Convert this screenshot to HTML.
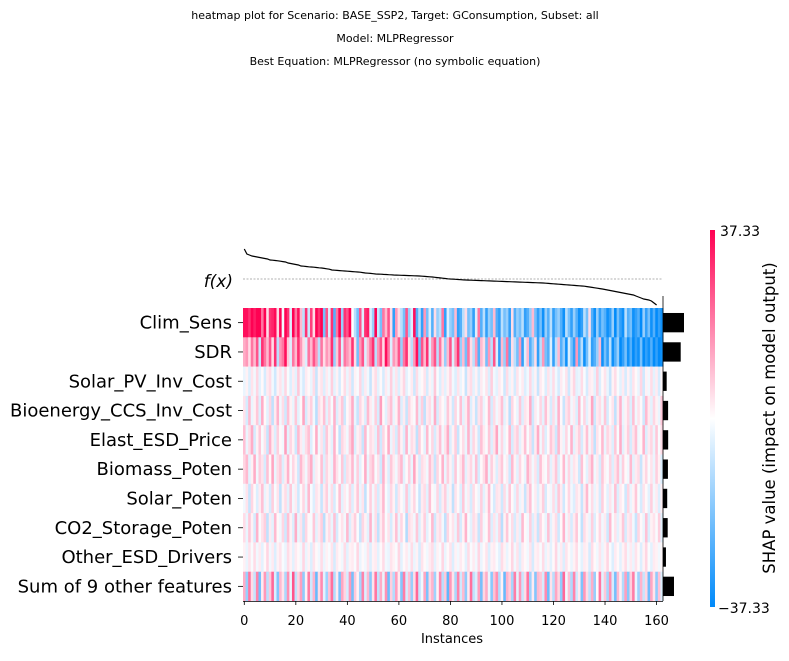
<!DOCTYPE html>
<html><head><meta charset="utf-8"><style>
body{margin:0;background:#fff;}
svg text{font-family:"DejaVu Sans","Liberation Sans",sans-serif;}
</style></head><body>
<svg id="c" width="789" height="656" viewBox="0 0 789 656" xmlns="http://www.w3.org/2000/svg">
<defs><linearGradient id="cb" x1="0" y1="1" x2="0" y2="0">
<stop offset="0" stop-color="rgb(0,138,250)"/><stop offset="0.5" stop-color="rgb(255,255,255)"/><stop offset="1" stop-color="rgb(255,0,82)"/></linearGradient></defs>
<text x="395" y="19" font-size="11" text-anchor="middle">heatmap plot for Scenario: BASE_SSP2, Target: GConsumption, Subset: all</text>
<text x="395" y="42" font-size="11" text-anchor="middle">Model: MLPRegressor</text>
<text x="395" y="65" font-size="11" text-anchor="middle">Best Equation: MLPRegressor (no symbolic equation)</text>
<g id="cells"></g>
<g id="fxg"></g>
<g id="bars"></g>
<g id="ylab"></g>
<g id="xax"></g>
<text x="452" y="643" font-size="13" text-anchor="middle">Instances</text>
<text x="233" y="287" font-size="17" text-anchor="end" font-style="italic">f(x)</text>
<rect x="710" y="230" width="5" height="377" fill="url(#cb)"/>
<text id="cbmax" x="720" y="236" font-size="14"></text>
<text id="cbmin" x="718" y="613" font-size="14"></text>
<text x="775" y="418" font-size="16.5" text-anchor="middle" transform="rotate(-90 775 418)">SHAP value (impact on model output)</text>
</svg>
<script>
const features=["Clim_Sens","SDR","Solar_PV_Inv_Cost","Bioenergy_CCS_Inv_Cost","Elast_ESD_Price","Biomass_Poten","Solar_Poten","CO2_Storage_Poten","Other_ESD_Drivers","Sum of 9 other features"];
const xTicks=[0,20,40,60,80,100,120,140,160];
const vmax=37.33;
const fxVals=[30,25,24,23,22.5,22,21.5,21,20.5,20,19,18.8,18.5,18.2,17.8,17.4,17,16,15.5,15,14.5,14,13,12.8,12.5,12.2,12,11.8,11.5,11.2,11,10.6,10.2,9.8,9,8.8,8.6,8.4,8.2,8,7.8,7.6,7.4,7.2,7,6.8,6.4,6,5.8,5.6,5.3,5,4.9,4.8,4.6,4.5,4.3,4.2,4,3.9,3.8,3.7,3.6,3.5,3.4,3.3,3.2,3.1,3,2.8,2.6,2.4,2.2,2,1.7,1.4,1.1,0.8,0.5,0.2,0,-0.1,-0.3,-0.5,-0.7,-0.9,-1,-1.1,-1.2,-1.3,-1.4,-1.5,-1.6,-1.7,-1.8,-1.9,-2,-2.1,-2.2,-2.3,-2.4,-2.5,-2.6,-2.7,-2.8,-2.9,-3,-3.1,-3.2,-3.3,-3.4,-3.5,-3.6,-3.7,-3.8,-3.9,-4,-4.2,-4.4,-4.6,-4.8,-5,-5.2,-5.4,-5.6,-5.8,-6,-6.2,-6.4,-6.6,-6.8,-7,-7.2,-7.6,-8,-8.4,-8.8,-9.2,-9.6,-10,-10.5,-11,-11.5,-12,-12.5,-13,-13.5,-14,-14.5,-15,-15.5,-16,-17,-18,-19,-20,-20.5,-21,-22,-24,-26];
const climSens=[35,35,30,37,33,37,37,20,37,5,30,32,36,6,37,-2,37,30,-5,37,20,35,10,-10,30,-8,28,5,37,30,37,-20,25,-5,30,-25,20,37,-15,30,25,37,0,-10,-20,25,-5,30,33,-5,-15,37,-8,-20,20,10,25,5,-30,15,5,-10,-20,25,-15,-5,35,-25,-10,-30,15,-20,-5,-25,5,-15,-10,20,-30,-5,-15,-20,10,-30,-25,-10,5,-20,-15,-30,-5,20,-25,-10,-30,-15,-20,10,-25,-30,-10,-20,-15,-30,5,-25,-15,-20,-10,-30,-25,-15,10,-20,-30,-20,-35,-15,-25,-10,-30,-20,-15,-25,-35,-10,-20,-30,-15,-25,-35,-30,-10,-20,5,-25,-35,-15,-30,-20,-25,-35,-30,-15,-37,-20,-30,-35,-10,-25,-20,-35,-30,-25,-37,-15,-30,-20,-35,-25,-37,-30,-35];
const sdr=[12,15,5,20,10,25,-8,30,20,10,25,5,30,-10,15,20,35,8,-5,20,10,30,15,5,-5,20,10,25,15,-10,20,5,15,10,30,-15,8,25,-5,20,15,10,30,5,-20,15,25,-5,10,20,30,-10,15,25,5,35,20,-5,15,10,25,-15,20,30,5,-10,15,35,-20,25,10,30,-5,15,25,-10,20,5,-15,10,25,-5,15,30,-15,10,-20,20,5,-10,15,-25,10,5,-20,15,-10,25,-5,-30,10,-15,20,-25,5,-10,-20,15,-30,-5,10,-25,-15,5,-30,-10,15,-20,-25,-5,-30,-10,10,-25,-15,-35,-5,-20,-30,15,-25,-10,-35,-20,-5,-30,-25,-15,10,-35,-20,-30,-10,-35,-25,-15,-37,-30,-20,-35,-25,-37,-30,-35,-20,-37,-30,-35,-25,-37,-30,-37,-35];
const solarPV=[-3,2,-5,4,-2,6,-4,1,-6,3,5,-2,-7,2,4,-3,6,-1,-5,3,-4,8,-2,-6,3,1,-3,5,-8,2,4,-5,3,-2,7,-4,2,-6,1,5,-3,4,-7,2,-1,6,-5,3,-2,-8,2,5,-4,1,-6,3,-2,7,-3,4,-5,2,6,-4,-1,3,-7,5,-2,1,4,-6,2,-3,8,-1,-5,3,-4,2,6,-2,-5,4,-3,1,-8,3,5,-4,2,-6,3,-1,4,-5,7,-2,-4,3,1,-7,5,-3,2,-6,4,-1,3,-5,-2,6,-4,2,-8,3,1,-5,4,-3,5,-2,-6,3,-1,4,-7,2,6,-4,-3,5,-1,-6,3,2,-4,7,-5,1,4,-3,-8,2,5,-1,-4,3,-6,2,-5,4,1,-3,6,-7,2,-2,5,-4,3,-6,1];
const bioCCS=[4,-6,10,-3,2,8,-5,12,1,-4,6,-9,3,11,-2,5,-7,9,2,-3,8,-4,1,13,-6,3,7,-2,-10,5,2,9,-4,6,-1,11,-5,3,8,-7,1,4,12,-3,-8,6,2,-5,10,3,-2,7,-6,14,1,-4,5,9,-3,2,11,-5,3,-8,6,2,-1,10,-4,7,-9,3,5,-2,12,-6,4,1,-3,8,2,-7,6,-1,9,-4,3,11,-5,2,-8,4,7,-3,1,10,-6,5,-2,3,9,-4,2,-10,6,1,-3,8,-5,4,2,12,-7,3,-1,6,-4,9,2,-6,5,-3,11,1,-8,4,7,-2,3,-5,10,-1,6,-4,2,13,-7,3,5,-2,8,-6,1,4,-9,3,11,-3,2,6,-5,9,-2,4,1,-7,10,3,-4,6,2,-3,8];
const elast=[9,-3,5,12,-6,2,8,-1,4,-8,11,3,-5,7,1,-2,14,-4,6,2,-7,10,3,-3,5,9,-5,1,12,-2,4,-6,8,2,-4,11,1,-9,6,3,-2,7,13,-5,2,4,-8,10,-1,5,3,-4,9,-7,6,1,12,-3,4,-6,8,2,-5,11,-2,5,3,-9,7,1,-4,10,-1,6,-6,3,9,-2,4,12,-5,2,7,-8,1,5,-3,11,-4,6,2,-7,9,3,-1,8,-5,4,13,-2,6,-3,1,10,-6,4,7,-4,2,9,-1,5,-8,3,12,-2,6,-5,1,8,4,-7,10,2,-3,6,-1,11,-4,3,7,-6,2,9,-2,5,-9,4,1,10,-3,6,3,-5,8,-1,12,-4,2,7,-6,4,9,-2,1,11,-5,3,6,-3,8,-1,5];
const biomass=[6,10,-4,2,12,-2,7,4,-6,9,1,13,-3,5,8,-5,3,11,-1,6,2,-7,10,4,-2,7,12,-4,3,1,9,-5,6,2,-3,11,4,-1,8,-6,5,3,10,-2,7,-4,1,12,-3,6,9,-1,4,-7,11,2,-5,8,3,-2,6,10,-4,1,7,-3,13,2,-6,5,3,-2,9,4,-8,6,1,11,-3,7,2,-5,8,-1,4,10,-4,3,6,-2,9,-6,1,5,12,-3,7,2,-5,4,8,-1,3,-7,10,2,-4,6,1,-3,11,5,-2,4,-6,9,2,-1,7,-4,3,8,-5,1,10,-2,6,-3,4,2,-7,9,1,-4,5,11,-2,3,-6,8,2,-1,6,-5,4,9,-3,7,1,-2,10,-4,3,5,-8,2,6,-1,4,-3,7,2,-5];
const solarPot=[-2,4,-8,6,1,-5,3,9,-3,2,-6,7,-1,4,-9,2,5,-4,8,-2,3,-7,1,6,-3,10,-1,-5,4,2,-8,3,7,-2,5,-6,1,9,-4,3,-1,6,-5,2,8,-3,4,-9,1,7,-2,5,-6,3,10,-1,-4,6,2,-7,4,1,-3,8,-5,2,6,-1,-8,3,5,-4,9,1,-2,6,-6,3,7,-3,2,-9,4,1,-5,8,-2,3,-6,5,1,-3,7,-4,2,10,-1,-6,4,3,-7,5,-2,8,1,-4,6,-3,2,-8,4,9,-1,3,-5,2,7,-6,1,-2,5,-4,8,3,-7,1,6,-2,-5,4,2,-8,3,10,-1,5,-3,2,-6,7,1,-4,4,-2,9,-5,3,1,-7,6,-3,2,8,-1,-6,4,1,-4,7,-2,3,-5,2];
const co2=[5,-3,8,2,-6,11,-1,4,7,-9,3,-4,10,1,-2,6,-7,9,2,-5,12,-3,4,-8,6,1,-1,8,-4,3,7,-10,2,5,-3,9,-6,1,4,-2,10,-5,3,7,-1,-8,6,2,-4,11,-2,5,-9,3,8,-1,4,-6,2,9,-3,6,1,-11,5,3,-2,8,-5,2,7,-4,1,10,-7,3,5,-2,-9,6,1,4,-3,8,-6,2,11,-1,-4,5,3,-8,7,-2,1,9,-5,4,-3,6,-10,2,8,-1,5,-6,3,-4,10,1,-2,7,-5,3,-8,6,1,-3,9,-4,2,5,-7,1,11,-2,4,-6,3,8,-1,-9,5,2,-3,7,-5,1,6,-2,3,-7,10,-1,4,-4,2,8,-6,3,5,-2,-8,6,1,-3,9,-5,2,4,-1,7,-4];
const otherESD=[2,-3,4,-1,5,-2,3,-4,1,6,-2,3,-5,2,4,-1,-3,5,2,-4,3,1,-2,6,-3,2,-5,4,1,-2,5,-3,2,-1,4,-6,3,1,-2,5,-4,2,3,-1,6,-3,1,-2,4,-5,2,3,-4,1,5,-2,-3,4,2,-1,6,-4,1,3,-2,5,-3,2,-6,4,1,-2,3,5,-4,2,-1,6,-3,1,4,-5,2,-2,3,1,-4,5,-1,3,-2,6,-3,1,4,-5,2,3,-1,-4,5,2,-3,1,6,-2,4,-5,3,1,-2,4,-6,2,3,-1,5,-3,2,-4,1,6,-2,3,-5,4,1,-3,2,5,-1,-4,3,2,-6,5,1,-2,4,-3,2,6,-1,-5,3,1,-4,2,5,-2,3,-3,4,1,-5,2,6,-1,-4,3,2,-2,1];
const sumOther=[12,-15,20,5,-8,18,-20,3,15,-10,8,22,-5,-18,10,4,-12,16,-3,25,-9,6,14,-16,2,19,-7,11,-22,5,17,-4,-14,9,21,-11,3,-19,13,6,-6,15,-20,8,2,-13,18,-5,10,-17,4,20,-9,12,-3,16,-21,7,-11,14,3,-18,19,-6,9,-15,5,22,-8,-2,13,-19,6,11,-14,2,17,-10,8,-23,15,4,-12,18,-7,10,-16,3,21,-9,-5,14,-20,6,12,-3,-17,9,16,-11,2,-22,11,7,-13,19,-4,15,-8,5,20,-14,3,-18,10,8,-6,17,-21,4,-10,13,6,-16,22,-2,9,-12,18,-7,3,-19,15,5,-9,12,-15,1,20,-4,8,-13,16,-6,-20,10,2,-11,14,-17,7,19,-3,-14,11,-8,6,-21,13,4,-16,9,-5];
const rows=[climSens,sdr,solarPV,bioCCS,elast,biomass,solarPot,co2,otherESD,sumOther];

const NS="http://www.w3.org/2000/svg";
const X0=243,X1=663,Y0=308,RH=29.3,N=climSens.length;
const cw=(X1-X0)/N;
const xs=i=>X0+i*(X1-X0)/N;
const fy=v=>279-v;
function mk(t,a,p){const e=document.createElementNS(NS,t);for(const k in a)e.setAttribute(k,a[k]);p.appendChild(e);return e;}
function col(v){let t=Math.max(-1,Math.min(1,v/vmax));let r,g,b;
 if(t>=0){r=255;g=255*(1-t);b=255-(255-82)*t;}else{t=-t;r=255*(1-t);g=255-(255-138)*t;b=255-5*t;}
 return `rgb(${r|0},${g|0},${b|0})`;}
const cells=document.getElementById('cells');
rows.forEach((row,r)=>{row.forEach((v,i)=>{
 const e=mk('rect',{x:xs(i),y:Y0+r*RH,width:cw+0.4,height:RH+0.3,fill:col(v)},cells);
 
 
});});
const fxg=document.getElementById('fxg');
const base=mk('line',{x1:X0,x2:X1,y1:fy(0),y2:fy(0),stroke:'#999','stroke-width':0.7,'stroke-dasharray':'2,1.5'},fxg);


const pts=fxVals.map((v,i)=>`${(xs(i)+cw/2).toFixed(1)},${fy(v).toFixed(1)}`).join(' ');
const pl=mk('polyline',{points:pts,fill:'none',stroke:'#000','stroke-width':1.2},fxg);


const means=rows.map(r=>r.reduce((s,v)=>s+Math.abs(v),0)/r.length);
const mx=Math.max(...means);
const bars=document.getElementById('bars');
const ylab=document.getElementById('ylab');
means.forEach((m,r)=>{
 const b=mk('rect',{x:X1,y:Y0+r*RH+RH*0.17,width:m/mx*21,height:RH*0.66,fill:'#000'},bars);
 
 
 const yc=Y0+r*RH+RH/2;
 const tk=mk('line',{x1:238,x2:243,y1:yc,y2:yc,stroke:'#000','stroke-width':0.8},ylab);
 
 
 const t=mk('text',{x:232,y:yc+6,'font-size':18,'text-anchor':'end'},ylab);
 t.textContent=features[r];
 
 
});
const xax=document.getElementById('xax');
const ax=mk('line',{x1:X0,x2:X1,y1:Y0+10*RH+0.5,y2:Y0+10*RH+0.5,stroke:'#000','stroke-width':0.8},xax);


const vl=mk('line',{x1:X1,x2:X1,y1:296,y2:Y0+10*RH,stroke:'#000','stroke-width':0.8},xax);


xTicks.forEach(v=>{
 const x=xs(v)+cw/2;
 const l=mk('line',{x1:x,x2:x,y1:Y0+10*RH,y2:Y0+10*RH+4,stroke:'#000','stroke-width':0.8},xax);
 
 
 const t=mk('text',{x:x,y:625,'font-size':13,'text-anchor':'middle'},xax);
 t.textContent=v;
 
 
});
document.getElementById('cbmax').textContent=vmax.toFixed(2);
document.getElementById('cbmin').textContent='\u2212'+vmax.toFixed(2);
</script>
</body></html>
